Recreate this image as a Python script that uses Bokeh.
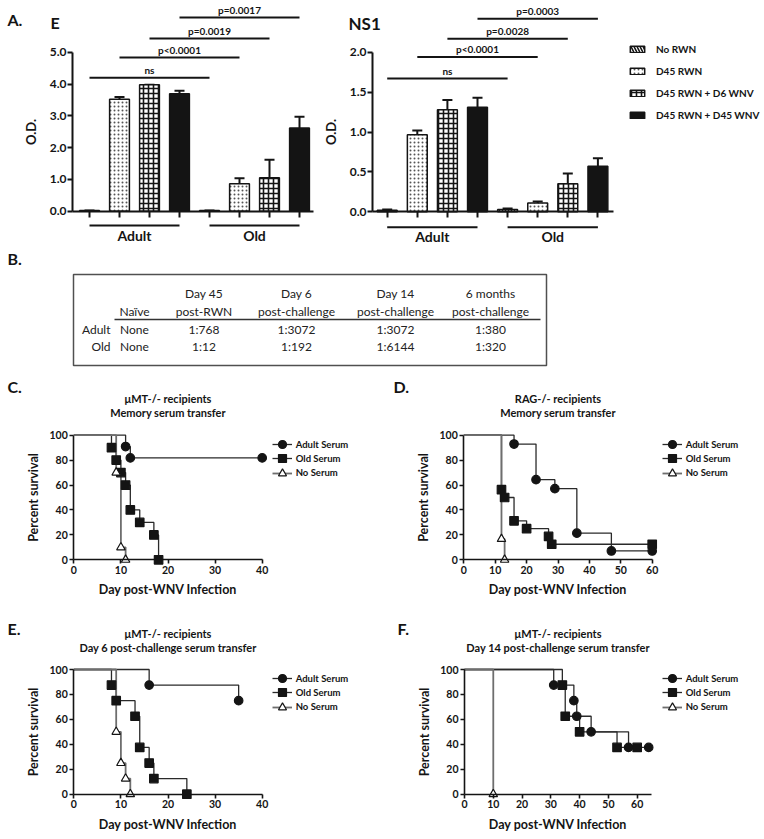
from bokeh.plotting import figure
from bokeh.models import (Range1d, FixedTicker, Legend, LegendItem, Whisker,
                          TeeHead, ColumnDataSource, NumeralTickFormatter)
from bokeh.layouts import column, row
from bokeh.embed import file_html
from bokeh.resources import INLINE
from bokeh.core.properties import value

FONT = "Lato"
INK = "#141414"

# ---------------- Panel A data (ELISA O.D.) ----------------
groups = ["Adult", "Old"]
conditions = ["No RWN", "D45 RWN", "D45 RWN + D6 WNV", "D45 RWN + D45 WNV"]

e_no_rwn = [0.02, 0.02]
e_no_rwn_err = [0.0, 0.0]
e_d45_rwn = [3.52, 0.86]
e_d45_rwn_err = [0.07, 0.18]
e_d6_wnv = [3.98, 1.05]
e_d6_wnv_err = [0.0, 0.57]
e_d45_wnv = [3.69, 2.62]
e_d45_wnv_err = [0.10, 0.35]

ns1_no_rwn = [0.02, 0.03]
ns1_no_rwn_err = [0.01, 0.01]
ns1_d45_rwn = [0.965, 0.11]
ns1_d45_rwn_err = [0.055, 0.02]
ns1_d6_wnv = [1.28, 0.35]
ns1_d6_wnv_err = [0.12, 0.13]
ns1_d45_wnv = [1.31, 0.57]
ns1_d45_wnv_err = [0.12, 0.10]

sig_from_bar = [0, 1, 2, 3]
sig_to_bar = [4, 5, 6, 7]
e_sig_labels = ["ns", "p<0.0001", "p=0.0019", "p=0.0017"]
e_sig_y = [4.20, 4.83, 5.43, 6.09]
ns1_sig_labels = ["ns", "p<0.0001", "p=0.0028", "p=0.0003"]
ns1_sig_y = [1.67, 1.94, 2.17, 2.42]

e_ticks = [0, 1, 2, 3, 4, 5]
ns1_ticks = [0, 0.5, 1.0, 1.5, 2.0]

# ---------------- Panel B data (titers) ----------------
table_header_top = ["", "Day 45", "Day 6", "Day 14", "6 months"]
table_header_bottom = ["Naïve", "post-RWN", "post-challenge", "post-challenge", "post-challenge"]
table_row_labels = ["Adult", "Old"]
titers_adult = ["None", "1:768", "1:3072", "1:3072", "1:380"]
titers_old = ["None", "1:12", "1:192", "1:6144", "1:320"]

# ---------------- Panels C-F data (survival, %) ----------------
c_adult_day = [0, 11, 12, 40]
c_adult_pct = [100, 90.9, 81.8, 81.8]
c_old_day = [0, 8, 9, 10, 11, 12, 14, 17, 18]
c_old_pct = [100, 90, 80, 70, 60, 40, 30, 20, 0]
c_none_day = [0, 9, 10, 11]
c_none_pct = [100, 70, 10, 0]

d_adult_day = [0, 16, 23, 29, 36, 47, 60]
d_adult_pct = [100, 92.9, 64.3, 57.1, 21.4, 7.1, 7.1]
d_old_day = [0, 12, 13, 16, 20, 27, 28, 60]
d_old_pct = [100, 56.25, 50, 31.25, 25, 18.75, 12.5, 12.5]
d_none_day = [0, 12, 13]
d_none_pct = [100, 16.7, 0]

e_adult_day = [0, 16, 35]
e_adult_pct = [100, 87.5, 75]
e_old_day = [0, 8, 9, 13, 14, 16, 17, 24]
e_old_pct = [100, 87.5, 75, 62.5, 37.5, 25, 12.5, 0]
e_none_day = [0, 9, 10, 11, 12]
e_none_pct = [100, 50, 25, 12.5, 0]

f_adult_day = [0, 31, 38, 39, 44, 57, 64]
f_adult_pct = [100, 87.5, 75, 62.5, 50, 37.5, 37.5]
f_old_day = [0, 34, 35, 40, 53, 60]
f_old_pct = [100, 87.5, 62.5, 50, 37.5, 37.5]
f_none_day = [0, 10]
f_none_pct = [100, 0]

serum_labels = ["Adult Serum", "Old Serum", "No Serum"]


# ======================================================================
class Panel:
    """A figure whose frame fills its canvas; maps page pixels to data units."""

    def __init__(self, X0, W, Y0, H, x_org, x_ppu, y_org, y_ppu):
        self.X0, self.W, self.Y0, self.H = X0, W, Y0, H
        self.x_org, self.x_ppu, self.y_org, self.y_ppu = x_org, x_ppu, y_org, y_ppu
        p = figure(width=W, height=H,
                   x_range=Range1d(self.x(X0), self.x(X0 + W)),
                   y_range=Range1d(self.y(Y0 + H), self.y(Y0)),
                   min_border=0, toolbar_location=None, output_backend="svg", title=None)
        p.grid.visible = False
        p.outline_line_color = None
        p.background_fill_color = "white"
        p.border_fill_color = "white"
        self.p = p

    def x(self, px):
        return (px - self.x_org) / self.x_ppu

    def y(self, py):
        return (self.y_org - py) / self.y_ppu

    def loc(self, px, py_bottom):
        return (px - self.X0, self.Y0 + self.H - py_bottom)

    def text(self, px, py, text, size, align="left", style="bold", baseline="middle",
             color=INK):
        self.p.text(x=[self.x(px)], y=[self.y(py)], text=[text], text_font=value(FONT),
                    text_font_size=size, text_font_style=style, text_align=align,
                    text_baseline=baseline, text_color=color)


def style_axis(ax, tick_font, label_font, tick_out=5, width=2):
    ax.axis_line_width = width
    ax.axis_line_color = INK
    ax.major_tick_line_width = width
    ax.major_tick_line_color = INK
    ax.major_tick_in = 0
    ax.major_tick_out = tick_out
    ax.minor_tick_line_color = None
    ax.major_label_text_font = FONT
    ax.major_label_text_font_style = "bold"
    ax.major_label_text_font_size = tick_font
    ax.major_label_text_color = INK
    ax.axis_label_text_font = FONT
    ax.axis_label_text_font_style = "bold"
    ax.axis_label_text_font_size = label_font
    ax.axis_label_text_color = INK


cond_styles = [
    dict(fill_color="white", hatch_pattern="left_diagonal_line", hatch_color=INK,
         hatch_scale=6, hatch_weight=1.6),
    dict(fill_color="white", hatch_pattern="dot", hatch_color="#555555",
         hatch_scale=4, hatch_weight=1),
    dict(fill_color="white", hatch_pattern="cross", hatch_color=INK,
         hatch_scale=5, hatch_weight=1.6),
    dict(fill_color=INK),
]


def bar_panel(P, axis_left_px, axis_right_px, ticks, series, errors, sig_labels, sig_y,
              group_line_px, sig_off):
    p = P.p
    ncond = len(conditions)
    rends = []
    for ci, (vals, errs) in enumerate(zip(series, errors)):
        xs = [gi * ncond + ci for gi in range(len(groups))]
        src = ColumnDataSource(dict(x=xs, top=vals, upper=[v + e for v, e in zip(vals, errs)]))
        r = p.vbar(x="x", top="top", bottom=0, width=0.66, source=src,
                   line_color=INK, line_width=1.5, **cond_styles[ci])
        rends.append(r)
        p.add_layout(Whisker(base="x", lower="top", upper="upper", source=src,
                             dimension="height", line_color=INK, line_width=2,
                             lower_head=None,
                             upper_head=TeeHead(size=10, line_width=2, line_color=INK)))

    mids = [(a + b) / 2 for a, b in zip(sig_from_bar, sig_to_bar)]
    p.segment(x0=sig_from_bar, x1=sig_to_bar, y0=sig_y, y1=sig_y, line_color=INK, line_width=2)
    p.text(x=mids, y=sig_y, text=sig_labels, text_font=value(FONT), text_font_size="10px",
           text_font_style="bold", text_align="center", text_baseline="bottom",
           text_color=INK, y_offset=-sig_off)

    gy = P.y(group_line_px)
    g_first = [gi * ncond for gi in range(len(groups))]
    g_last = [gi * ncond + ncond - 1 for gi in range(len(groups))]
    g_mid = [(a + b) / 2 for a, b in zip(g_first, g_last)]
    p.segment(x0=g_first, x1=g_last, y0=[gy] * len(groups), y1=[gy] * len(groups),
              line_color=INK, line_width=2)
    p.text(x=g_mid, y=[gy] * len(groups), text=groups, text_font=value(FONT),
           text_font_size="14px", text_font_style="bold", text_align="center",
           text_baseline="top", text_color=INK, y_offset=1)

    p.xaxis.fixed_location = 0
    p.xaxis.bounds = (P.x(axis_left_px), P.x(axis_right_px))
    p.xaxis.ticker = FixedTicker(ticks=list(range(len(groups) * ncond)))
    p.xaxis.major_label_overrides = {i: "" for i in range(len(groups) * ncond)}
    style_axis(p.xaxis, "1px", "12px", tick_out=6)
    p.yaxis.fixed_location = P.x(axis_left_px)
    p.yaxis.ticker = FixedTicker(ticks=ticks)
    p.yaxis.formatter = NumeralTickFormatter(format="0.0")
    p.yaxis.bounds = (ticks[0], ticks[-1])
    p.yaxis.axis_label = "O.D."
    style_axis(p.yaxis, "12px", "13px", tick_out=5)
    p.yaxis.major_label_standoff = 1
    p.yaxis.axis_label_standoff = 8
    return rends


# ---------------- Panel A left: E ----------------
PE = Panel(0, 320, 0, 250, 89, 30.0, 210.7, 31.8)
bar_panel(PE, 72, 313, e_ticks,
          [e_no_rwn, e_d45_rwn, e_d6_wnv, e_d45_wnv],
          [e_no_rwn_err, e_d45_rwn_err, e_d6_wnv_err, e_d45_wnv_err],
          e_sig_labels, e_sig_y, 225, 2)
PE.text(7, 19, "A.", "16px")
PE.text(50, 22, "E", "16px")

# ---------------- Panel A right: NS1 ----------------
PN = Panel(320, 444, 0, 250, 386.7, 30.1, 211.3, 79.8)
n_rends = bar_panel(PN, 372, 613, ns1_ticks,
                    [ns1_no_rwn, ns1_d45_rwn, ns1_d6_wnv, ns1_d45_wnv],
                    [ns1_no_rwn_err, ns1_d45_rwn_err, ns1_d6_wnv_err, ns1_d45_wnv_err],
                    ns1_sig_labels, ns1_sig_y, 226.7, 2)
PN.text(348, 23, "NS1", "17px")
legN = Legend(items=[LegendItem(label=c, renderers=[r]) for c, r in zip(conditions, n_rends)],
              location=PN.loc(628, 121.3), glyph_width=18, glyph_height=8, label_height=8,
              spacing=10, padding=0, margin=0, label_standoff=10, border_line_color=None,
              background_fill_alpha=0, label_text_font=FONT, label_text_font_style="bold",
              label_text_font_size="10px", label_text_color=INK)
PN.p.add_layout(legN)

# ---------------- Panel B: table ----------------
PT = Panel(0, 764, 250, 122, 0, 1.0, 0, -1.0)
tbl = PT.p
tbl.xaxis.visible = False
tbl.yaxis.visible = False
col_x = [134, 203.5, 296, 395, 490]
head_y = [293, 310.7]
row_y = [329, 346.3]
tbl.quad(left=[73], right=[546], top=[274], bottom=[365], fill_color=None,
         line_color="#505050", line_width=1.5)
tbl.segment(x0=[114], x1=[540], y0=[319], y1=[319], line_color="#333333", line_width=1.3)
tkw = dict(text_font=value(FONT), text_font_size="12px", text_color="#222222",
           text_baseline="middle")
tbl.text(x=col_x, y=[head_y[0]] * 5, text=table_header_top, text_align="center", **tkw)
tbl.text(x=col_x, y=[head_y[1]] * 5, text=table_header_bottom, text_align="center", **tkw)
tbl.text(x=[110, 110], y=row_y, text=table_row_labels, text_align="right", **tkw)
tbl.text(x=col_x, y=[row_y[0]] * 5, text=titers_adult, text_align="center", **tkw)
tbl.text(x=col_x, y=[row_y[1]] * 5, text=titers_old, text_align="center", **tkw)
PT.text(7, 257.5, "B.", "16px")


# ---------------- survival panels ----------------
def survival_panel(P, x_max, x_ticks, title1, title2, title_py, letter, letter_px, letter_py,
                   legend_marker_px, legend_rows_py, curves):
    p = P.p
    line_rs = []
    for (day, pct, marker, color, lw) in curves:
        line_rs.append(p.step(x=day, y=pct, mode="after", line_color=color, line_width=lw))
    scat_rs = []
    for (day, pct, marker, color, lw) in curves:
        fill = "white" if marker == "triangle" else INK
        scat_rs.append(p.scatter(x=day[1:], y=pct[1:], marker=marker, size=8.5,
                                 fill_color=fill, line_color=INK, line_width=1.2))
    # one single-item legend per row so that markers keep their size at a tight row pitch
    for lab, lr, sr, ry in zip(serum_labels, line_rs, scat_rs, legend_rows_py):
        leg = Legend(items=[LegendItem(label=lab, renderers=[lr, sr])],
                     location=P.loc(legend_marker_px - 10, ry + 10), glyph_width=20,
                     glyph_height=20, label_height=20, spacing=0, padding=0, margin=0,
                     label_standoff=4, border_line_color=None, background_fill_alpha=0,
                     label_text_font=FONT, label_text_font_style="bold",
                     label_text_font_size="9.5px", label_text_color=INK)
        p.add_layout(leg)

    p.xaxis.fixed_location = 0
    p.yaxis.fixed_location = 0
    p.xaxis.bounds = (0, x_max)
    p.yaxis.bounds = (0, 100)
    p.xaxis.ticker = FixedTicker(ticks=x_ticks)
    p.yaxis.ticker = FixedTicker(ticks=[0, 20, 40, 60, 80, 100])
    p.xaxis.axis_label = "Day post-WNV Infection"
    p.yaxis.axis_label = "Percent survival"
    for ax in (p.xaxis, p.yaxis):
        style_axis(ax, "10.5px", "12.5px", tick_out=4, width=1.6)
        ax.major_label_standoff = 2
        ax.axis_label_standoff = 5

    cx = P.x_org + P.x_ppu * x_max / 2
    P.text(cx, title_py[0], title1, "11px", align="center")
    P.text(cx, title_py[1], title2, "11px", align="center")
    P.text(letter_px, letter_py, letter, "16px")


def curves_for(a_d, a_p, o_d, o_p, n_d, n_p):
    return [(a_d, a_p, "circle", "#2a2a2a", 1.3),
            (o_d, o_p, "square", "#2a2a2a", 1.3),
            (n_d, n_p, "triangle", "#6e6e6e", 1.8)]


PC = Panel(0, 380, 372, 228, 73.3, 4.71, 559.3, 1.246)
survival_panel(PC, 40, [0, 10, 20, 30, 40], "μMT-/- recipients", "Memory serum transfer",
               (397.5, 412), "C.", 7, 386, 281.7, (444, 458.3, 472.7),
               curves_for(c_adult_day, c_adult_pct, c_old_day, c_old_pct, c_none_day, c_none_pct))

PD = Panel(380, 384, 372, 228, 463.3, 3.14, 559.3, 1.246)
survival_panel(PD, 60, [0, 10, 20, 30, 40, 50, 60], "RAG-/- recipients", "Memory serum transfer",
               (397.5, 412), "D.", 393, 386, 671.7, (444, 458.3, 472.7),
               curves_for(d_adult_day, d_adult_pct, d_old_day, d_old_pct, d_none_day, d_none_pct))

PE2 = Panel(0, 380, 600, 238, 73.3, 4.71, 793.7, 1.247)
survival_panel(PE2, 40, [0, 10, 20, 30, 40], "μMT-/- recipients",
               "Day 6 post-challenge serum transfer", (632.5, 646.7), "E.", 7, 627.5, 281.7,
               (678, 692.3, 706.7),
               curves_for(e_adult_day, e_adult_pct, e_old_day, e_old_pct, e_none_day, e_none_pct))

PF = Panel(380, 384, 600, 238, 464, 2.878, 793.7, 1.247)
survival_panel(PF, 65, [0, 10, 20, 30, 40, 50, 60], "μMT-/- recipients",
               "Day 14 post-challenge serum transfer", (632.5, 646.7), "F.", 397, 627.5, 671.7,
               (678, 692.3, 706.7),
               curves_for(f_adult_day, f_adult_pct, f_old_day, f_old_pct, f_none_day, f_none_pct))

layout = column(row(PE.p, PN.p), PT.p, row(PC.p, PD.p), row(PE2.p, PF.p))
open("out.html", "w").write(file_html(layout, INLINE))
